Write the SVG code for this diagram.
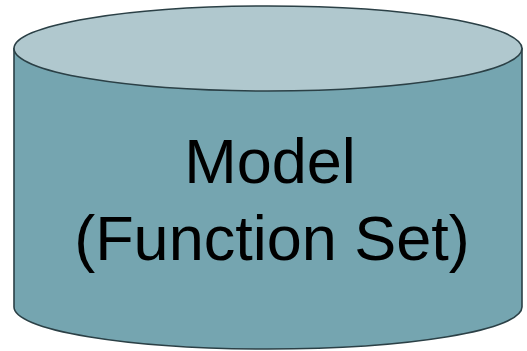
<svg xmlns="http://www.w3.org/2000/svg" width="527" height="351" viewBox="0 0 527 351">
  <style>
    .body { fill: #75a5b0; stroke: #2b4046; stroke-width: 1.6; }
    .lid { fill: #b0c8ce; stroke: #2b4046; stroke-width: 1.6; }
    .label { font-family: "Liberation Sans", Arial, sans-serif; font-size: 63px; fill: #000; text-anchor: middle; }
  </style>
  <rect width="527" height="351" fill="#ffffff"/>
  <g id="model-cylinder">
    <!-- side wall with rounded base -->
    <path class="body" d="M14,48.5 L14,307 A254,42 0 0 0 522,307 L522,48.5 Z"/>
    <!-- top lid -->
    <ellipse class="lid" cx="268" cy="48.5" rx="254" ry="42.5"/>
    <text class="label" x="270" y="183">Model</text>
    <text class="label" x="272" y="260">(Function Set)</text>
  </g>
</svg>
